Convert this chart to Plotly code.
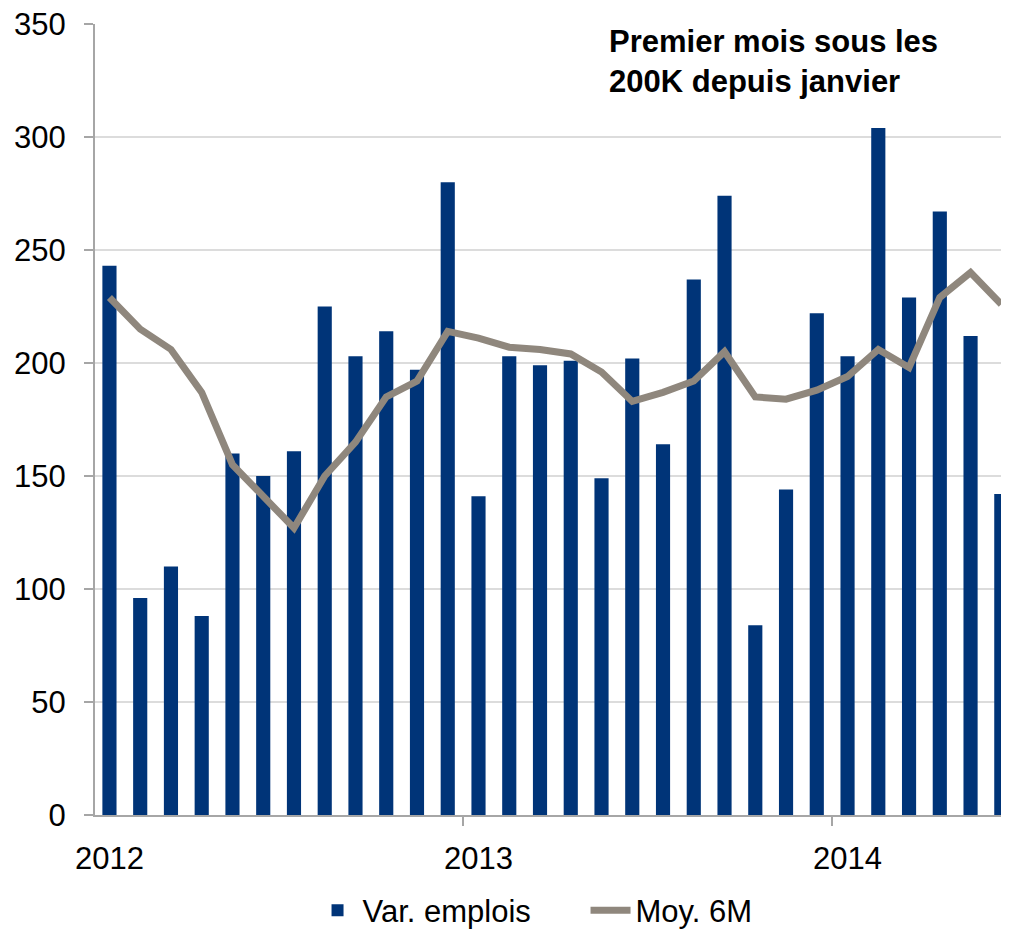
import plotly.graph_objects as go

months = list(range(30))  # Jan 2012 .. Jun 2014
year_ticks = [0, 12, 24]
year_labels = ["2012", "2013", "2014"]

var_emplois = [243, 96, 110, 88, 160, 150, 161, 225, 203, 214, 197, 280,
               141, 203, 199, 201, 149, 202, 164, 237, 274, 84, 144, 222,
               203, 304, 229, 267, 212, 142]
moy_6m = [229, 215, 206, 187, 155, 141, 127, 150, 165, 185, 192, 214,
          211, 207, 206, 204, 196, 183, 187, 192, 205, 185, 184, 188,
          194, 206, 198, 229, 240, 226]

FONT = "Liberation Sans, Arial, sans-serif"

fig = go.Figure()
fig.add_trace(go.Bar(x=months, y=var_emplois, name="Var. emplois",
                     marker=dict(color="#003478", line=dict(width=0))))
fig.add_trace(go.Scatter(x=months, y=moy_6m, name="Moy. 6M", mode="lines",
                         line=dict(color="#8f877d", width=7)))

fig.update_layout(
    width=1001, height=922,
    margin=dict(l=87, r=0, t=16, b=115, autoexpand=False),
    plot_bgcolor="white", paper_bgcolor="white",
    bargap=0.54,
    font=dict(family=FONT, size=31, color="black"),
    showlegend=True,
    legend=dict(orientation="h", x=0.238, xanchor="left", y=-0.121, yanchor="middle",
                font=dict(size=31), itemwidth=40, traceorder="normal",
                entrywidth=218, entrywidthmode="pixels"),
    annotations=[dict(text="Premier mois sous les<br>200K depuis janvier",
                      x=0.56, y=1.003, xref="paper", yref="paper",
                      xanchor="left", yanchor="top", align="left", showarrow=False,
                      font=dict(family=FONT, size=31, color="black", weight="bold"))],
)
fig.update_xaxes(
    range=[-0.47, 29.25], tickmode="array", tickvals=year_ticks, ticktext=year_labels,
    ticks="", showgrid=False, showline=True, linecolor="#a6a6a6", linewidth=2,
    ticklabelstandoff=15, automargin=False, ticklabeloverflow="allow",
    minor=dict(tickmode="linear", tick0=-0.5, dtick=12, ticks="outside", ticklen=9,
               tickcolor="#a6a6a6", tickwidth=2, showgrid=False),
    zeroline=False,
)
fig.update_yaxes(
    range=[0, 350], tickvals=[0, 50, 100, 150, 200, 250, 300, 350],
    ticks="outside", ticklen=9, tickcolor="#a6a6a6", tickwidth=2,
    showline=True, linecolor="#a6a6a6", linewidth=2,
    showgrid=True, gridcolor="#dcdcdc", gridwidth=2, zeroline=False,
    ticklabelstandoff=12, automargin=False, ticklabeloverflow="allow",
)

fig.write_html("out.html")
